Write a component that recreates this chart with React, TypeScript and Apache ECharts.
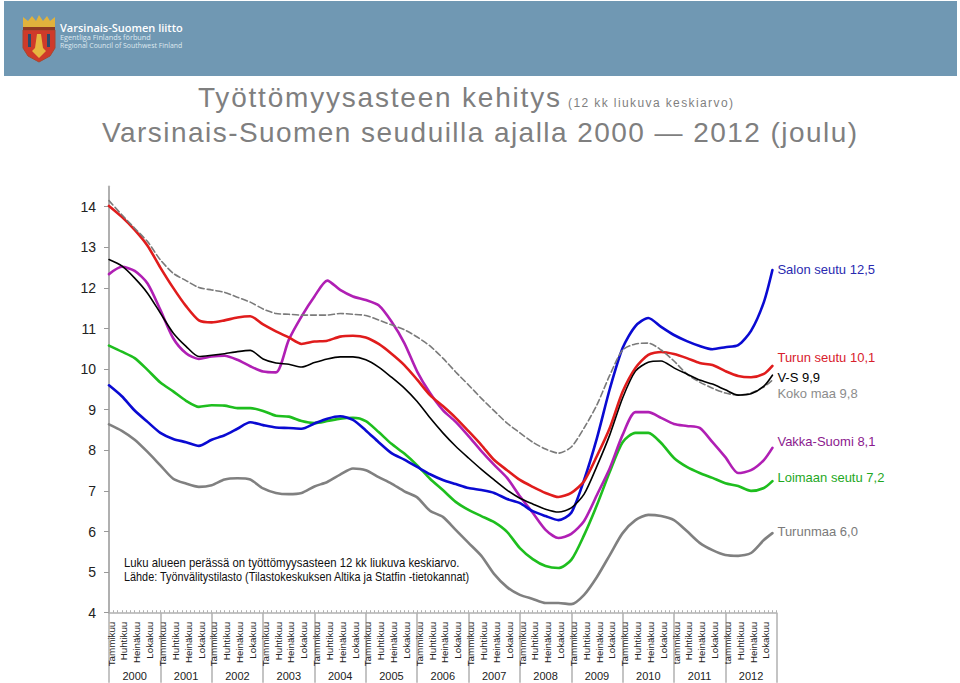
import React, { useEffect, useRef } from "react";
import * as echarts from "echarts";

const monthNames = ["Tammikuu","Helmikuu","Maaliskuu","Huhtikuu","Toukokuu","Kesäkuu","Heinäkuu","Elokuu","Syyskuu","Lokakuu","Marraskuu","Joulukuu"];
const years = ["2000","2001","2002","2003","2004","2005","2006","2007","2008","2009","2010","2011","2012"];

const sampleMonths = [0,3,6,9,12,15,18,21,24,27,30,33,36,39,42,45,48,51,54,57,60,63,66,69,72,75,78,81,84,87,90,93,96,99,102,105,108,111,114,117,120,123,126,129,132,135,138,141,144,147,150,153,155];

const salon = [9.6,9.33,8.98,8.7,8.43,8.28,8.2,8.11,8.26,8.37,8.53,8.69,8.62,8.56,8.55,8.53,8.66,8.78,8.84,8.75,8.49,8.2,7.93,7.77,7.59,7.41,7.27,7.17,7.07,7.02,6.95,6.8,6.7,6.5,6.38,6.28,6.46,7.27,8.3,9.51,10.52,11.06,11.26,11.04,10.84,10.69,10.57,10.49,10.54,10.59,10.94,11.65,12.44];
const turku = [14.02,13.75,13.43,13.04,12.5,12.0,11.55,11.2,11.15,11.2,11.27,11.3,11.1,10.93,10.78,10.62,10.68,10.7,10.8,10.82,10.78,10.62,10.38,10.1,9.74,9.36,9.09,8.8,8.47,8.13,7.76,7.51,7.27,7.1,6.95,6.85,6.95,7.24,7.86,8.55,9.44,10.03,10.35,10.42,10.37,10.27,10.15,10.1,9.95,9.83,9.8,9.88,10.08];
const varsinaisSuomi = [12.7,12.54,12.24,11.87,11.38,10.89,10.56,10.31,10.34,10.38,10.43,10.46,10.25,10.15,10.12,10.05,10.16,10.25,10.3,10.3,10.23,10.05,9.8,9.53,9.2,8.8,8.43,8.1,7.81,7.53,7.27,7.02,6.82,6.68,6.55,6.48,6.58,6.92,7.61,8.38,9.29,9.95,10.17,10.2,10.03,9.88,9.73,9.63,9.49,9.36,9.39,9.58,9.85];
const kokoMaa = [14.15,13.8,13.47,13.14,12.69,12.36,12.18,12.01,11.95,11.89,11.77,11.65,11.48,11.37,11.35,11.33,11.33,11.33,11.37,11.35,11.32,11.21,11.09,10.97,10.79,10.57,10.27,9.93,9.61,9.28,8.97,8.67,8.43,8.2,8.03,7.93,8.08,8.55,9.12,9.85,10.47,10.62,10.64,10.47,10.2,9.88,9.68,9.53,9.41,9.36,9.41,9.56,9.73];
const vakka = [12.34,12.52,12.42,12.11,11.46,10.76,10.39,10.25,10.31,10.33,10.23,10.07,9.94,9.92,10.72,11.3,11.79,12.18,11.95,11.79,11.7,11.57,11.17,10.64,9.94,9.41,8.99,8.7,8.35,7.98,7.64,7.32,6.87,6.46,6.04,5.84,5.94,6.26,6.9,7.56,8.38,8.94,8.94,8.8,8.65,8.6,8.55,8.2,7.83,7.44,7.51,7.76,8.06];
const loimaa = [10.58,10.43,10.27,9.98,9.67,9.45,9.22,9.07,9.11,9.1,9.04,9.04,8.97,8.85,8.83,8.72,8.67,8.72,8.78,8.8,8.72,8.45,8.16,7.92,7.63,7.3,7.02,6.73,6.53,6.38,6.23,5.99,5.59,5.32,5.15,5.1,5.3,5.91,6.65,7.47,8.2,8.43,8.43,8.18,7.81,7.59,7.44,7.32,7.19,7.12,7.0,7.07,7.24];
const turunmaa = [8.64,8.48,8.26,7.96,7.63,7.3,7.18,7.1,7.14,7.28,7.31,7.28,7.06,6.95,6.92,6.95,7.11,7.22,7.4,7.55,7.51,7.34,7.18,6.99,6.84,6.51,6.36,6.04,5.72,5.4,4.95,4.63,4.44,4.34,4.24,4.24,4.21,4.44,4.88,5.42,5.96,6.28,6.41,6.38,6.28,6.01,5.72,5.54,5.42,5.4,5.47,5.79,5.96];

const yTicks = [4,5,6,7,8,9,10,11,12,13,14];
const titleLine1 = "Työttömyysasteen kehitys";
const titleNote = "(12 kk liukuva keskiarvo)";
const titleLine2 = "Varsinais-Suomen seuduilla ajalla 2000 — 2012 (joulu)";
const noteLine1 = "Luku alueen perässä on työttömyysasteen 12 kk liukuva keskiarvo.";
const noteLine2 = "Lähde: Työnvälitystilasto (Tilastokeskuksen Altika ja Statfin -tietokannat)";

const monthCategories: string[] = [];
years.forEach((y, yi) => {
  monthNames.forEach((m, mi) => {
    monthCategories.push(mi === 0 && yi >= 11 ? m.toLowerCase() : m);
  });
});

const FONT = '"Liberation Sans", Arial, sans-serif';
const AXIS_GRAY = "#b0b0b0";

function lineSeries(name: string, label: string, values: number[], color: string, width: number, labelColor: string, dy: number, dash?: number[]) {
  return {
    name,
    type: "line",
    xAxisIndex: 0,
    yAxisIndex: 0,
    data: values.map((v, i) => [sampleMonths[i], v]),
    smooth: 0.25,
    showSymbol: false,
    symbol: "none",
    clip: false,
    lineStyle: { color, width, type: dash || "solid", cap: "round" },
    itemStyle: { color },
    endLabel: {
      show: true,
      formatter: label,
      color: labelColor,
      fontFamily: FONT,
      fontSize: 13,
      distance: 5,
      offset: [0, dy],
    },
  };
}

export default function App() {
  const ref = useRef<HTMLDivElement>(null);
  useEffect(() => {
    if (!ref.current) return;
    const chart = echarts.init(ref.current, undefined, { renderer: "svg" });
    chart.setOption({
      animation: false,
      backgroundColor: "#ffffff",
      textStyle: { fontFamily: FONT },
      grid: { left: 109, top: 186.4, width: 667.7, height: 426.3, containLabel: false },
      xAxis: [
        { type: "value", min: 0, max: 156, show: false, splitLine: { show: false } },
        {
          type: "category",
          data: monthCategories,
          boundaryGap: true,
          position: "bottom",
          axisLine: { show: true, lineStyle: { color: AXIS_GRAY, width: 1.5 } },
          axisTick: { show: true, inside: true, interval: 0, length: 2.5, lineStyle: { color: AXIS_GRAY, width: 1 } },
          axisLabel: { interval: 2, rotate: 90, margin: 9, fontSize: 9.8, color: "#222222", fontFamily: FONT, hideOverlap: false },
          splitLine: { show: false },
        },
        {
          type: "category",
          data: years,
          boundaryGap: true,
          position: "bottom",
          axisLine: { show: false },
          axisTick: { show: true, length: 70, interval: 0, lineStyle: { color: AXIS_GRAY, width: 1.5 } },
          axisLabel: { interval: 0, margin: 58, fontSize: 11, color: "#222222", fontFamily: FONT },
          splitLine: { show: false },
        },
      ],
      yAxis: {
        type: "value",
        min: 4,
        max: 14.5,
        interval: 1,
        axisLine: { show: true, lineStyle: { color: AXIS_GRAY, width: 2 } },
        axisTick: { show: true, length: 5, customValues: yTicks, lineStyle: { color: "#999999", width: 1 } },
        axisLabel: { customValues: yTicks, margin: 13, fontSize: 14, color: "#222222", fontFamily: FONT },
        splitLine: { show: false },
      },
      series: [
        lineSeries("Turunmaa", "Turunmaa 6,0", turunmaa, "#808080", 2.6, "#7a7a7a", -2),
        lineSeries("Loimaan seutu", "Loimaan seutu 7,2", loimaa, "#1ebe1e", 2.6, "#1fa81f", -4),
        lineSeries("Vakka-Suomi", "Vakka-Suomi 8,1", vakka, "#b01fb4", 2.6, "#8b1a8e", -6),
        lineSeries("Salon seutu", "Salon seutu 12,5", salon, "#0a0ad2", 2.6, "#2a2ab0", -1),
        lineSeries("Turun seutu", "Turun seutu 10,1", turku, "#e01c1c", 2.6, "#d8202c", -8),
        lineSeries("Koko maa", "Koko maa 9,8", kokoMaa, "#7a7a7a", 1.6, "#8c8c8c", 13, [6, 3]),
        lineSeries("V-S", "V-S 9,9", varsinaisSuomi, "#000000", 1.6, "#000000", 2),
      ],
      graphic: [
        { type: "rect", shape: { x: 4, y: 1, width: 953, height: 75 }, style: { fill: "#7098b3" }, silent: true },
        // coat of arms
        { type: "polygon", shape: { points: [[23,30],[55,30],[55,48],[50,56],[39,62],[28,56],[23,48]] }, style: { fill: "#cf3a2a", stroke: "#a8472e", lineWidth: 1 } },
        { type: "polygon", shape: { points: [[23,29],[23,17],[28,21],[32,16],[36,21],[39,15],[43,21],[47,16],[50,21],[55,17],[55,29]] }, style: { fill: "#e0b23c" } },
        { type: "rect", shape: { x: 23, y: 27, width: 32, height: 3 }, style: { fill: "#8e3a22" } },
        { type: "polygon", shape: { points: [[28,34],[31,34],[31,47],[28,47]] }, style: { fill: "#2c4a6c" } },
        { type: "polygon", shape: { points: [[47,34],[50,34],[50,47],[47,47]] }, style: { fill: "#2c4a6c" } },
        { type: "polygon", shape: { points: [[37,34],[41,34],[43,48],[46,51],[39,58],[32,51],[35,48]] }, style: { fill: "#e6b640" } },
        { type: "text", x: 60, y: 27, style: { text: "Varsinais-Suomen liitto", fill: "#ffffff", verticalAlign: "middle", font: '600 11px "Open Sans", sans-serif' } },
        { type: "text", x: 60, y: 36.5, style: { text: "Egentliga Finlands förbund", fill: "#dfe9f0", verticalAlign: "middle", font: '7.3px "Open Sans", sans-serif' } },
        { type: "text", x: 60, y: 45, style: { text: "Regional Council of Southwest Finland", fill: "#dfe9f0", verticalAlign: "middle", font: '6.9px "Open Sans", sans-serif' } },
        // titles
        { type: "text", id: "t1", x: 198, y: 83, style: { text: titleLine1, fill: "#7f7f7f", font: `28px ${FONT}` } },
        { type: "text", id: "t2", x: 568, y: 97, style: { text: titleNote, fill: "#7f7f7f", font: `12px ${FONT}` } },
        { type: "text", id: "t3", x: 102, y: 118, style: { text: titleLine2, fill: "#7f7f7f", font: `28px ${FONT}` } },
        // source note
        { type: "text", x: 124, y: 556, scaleX: 0.946, style: { text: noteLine1, fill: "#111111", font: `12px ${FONT}` } },
        { type: "text", x: 124, y: 571, scaleX: 0.905, style: { text: noteLine2, fill: "#111111", font: `12px ${FONT}` } },
      ],
    });
    const svgTexts = ref.current.querySelectorAll("text");
    svgTexts.forEach((t) => {
      const s = t.textContent || "";
      if (s === titleLine1) t.setAttribute("letter-spacing", "1.8");
      if (s === titleNote) t.setAttribute("letter-spacing", "1.4");
      if (s === titleLine2) t.setAttribute("letter-spacing", "1.45");
    });
    return () => chart.dispose();
  }, []);
  return <div ref={ref} style={{ position: "absolute", left: 0, top: 0, width: 960, height: 683, overflow: "hidden" }} />;
}
